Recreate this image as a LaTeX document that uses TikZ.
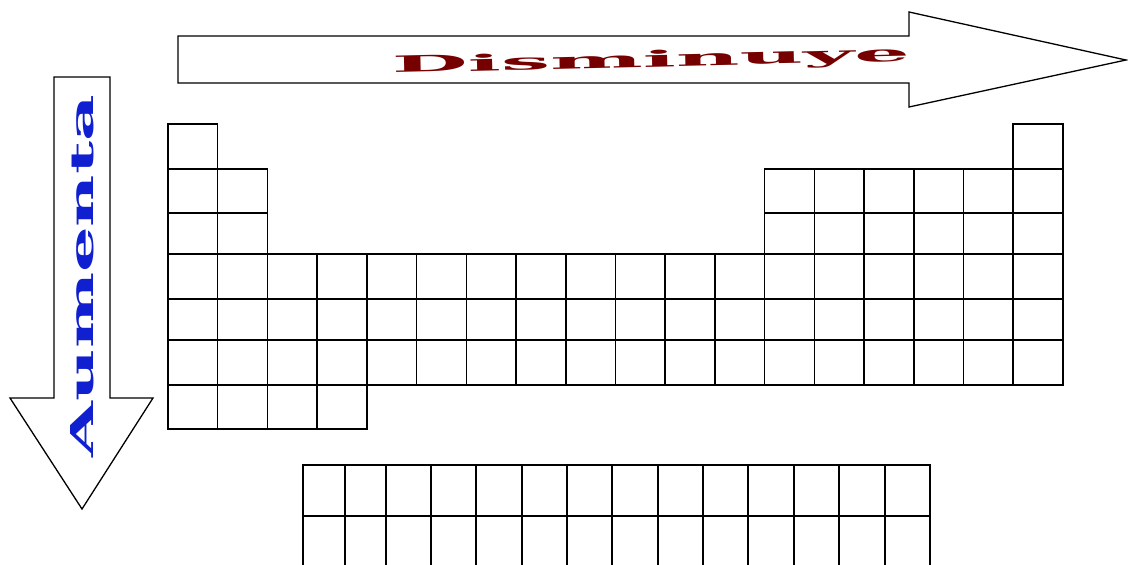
\documentclass[tikz,border=0pt]{standalone}
\usepackage{fontspec}
\usepackage{graphicx}
\usepackage{tikz}
\usepackage{xcolor}
\newfontfamily\wordart{DejaVu Serif}
\definecolor{wordred}{HTML}{760000}
\definecolor{wordblue}{HTML}{1020D0}

\begin{document}
\begin{tikzpicture}[
  x=1pt,y=-1pt,
  cell/.style={draw=black,line width=1.5pt},
  blockarrow/.style={draw=black,line width=1.3pt,fill=white,line join=miter},
  wordtext/.style={inner sep=0pt,anchor=base,font=\wordart\bfseries}
]
\useasboundingbox (0,0) rectangle (1128,565);

\draw[blockarrow] (178,36) -- (909,36) -- (909,12) -- (1126,60) -- (909,107)
      -- (909,83) -- (178,83) -- cycle;
\draw[blockarrow] (54,77) -- (110,77) -- (110,398) -- (153,398) -- (82,509)
      -- (10,398) -- (54,398) -- cycle;

\node[wordtext,text=wordred,rotate=1.3] (dism) at (651,67)
      {\resizebox{518pt}{17pt}{Disminuye}};
\node[wordtext,text=wordblue,rotate=90] (aum) at (93,276)
      {\resizebox{362pt}{23pt}{Aumenta}};

% main table
\def\cw{49.72}
\foreach \top/\h/\cols in {124/45/{1,18}, 169/44/{1,2,13,14,...,18},
    213/41/{1,2,13,14,...,18}, 254/45/{1,...,18}, 299/41/{1,...,18},
    340/45/{1,...,18}, 385/44/{1,...,4}}
  \foreach \c in \cols
    \draw[cell] ({168+(\c-1)*\cw},\top) rectangle ++(\cw,\h);

% lanthanides / actinides
\foreach \xa/\xb in {303/345, 345/386, 386/431, 431/476, 476/522, 522/567,
    567/612, 612/658, 658/703, 703/748, 748/794, 794/839, 839/885, 885/930} {
  \draw[cell] (\xa,465) rectangle (\xb,516);
  \draw[cell] (\xa,516) rectangle (\xb,570);
}
\end{tikzpicture}
\end{document}
